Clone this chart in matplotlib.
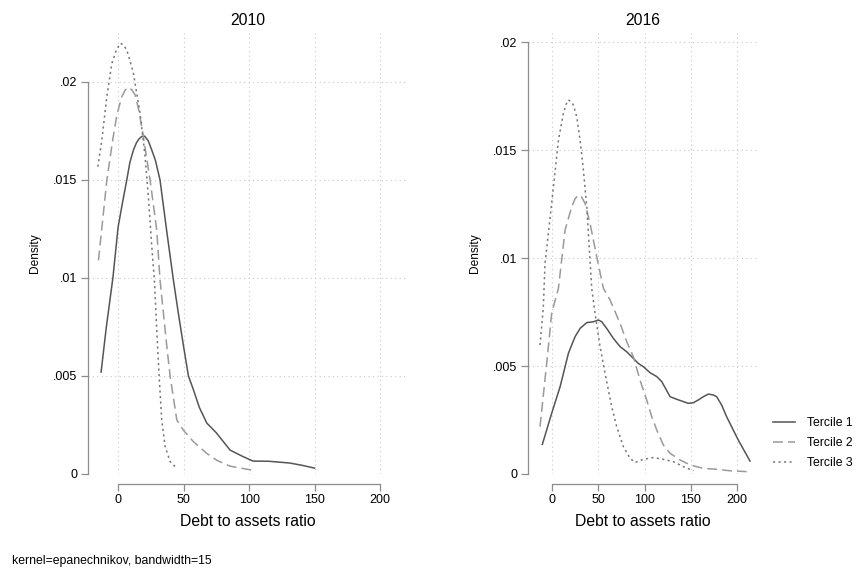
import matplotlib.pyplot as plt

plt.rcParams['font.family'] = ['Liberation Sans', 'DejaVu Sans']

# 2010 densities
x10_t1 = [-13, -9, -4, 0, 3.5, 6.6, 9, 11.7, 14, 16, 18, 20.2, 23, 25.7, 28.5, 32, 37, 42.2, 46, 50, 53.7, 57.5, 62,
          67.7, 75, 85.5, 95, 103, 115, 131, 140, 150]
y10_t1 = [.0052, .0075, .0100, .0126, .0139, .0150, .0159, .01653, .0169, .0171, .01722, .01724, .0170, .01653, .0160,
          .0150, .01245, .0099, .0082, .0065, .0050, .0043, .0034, .0026, .0021, .00122, .0009, .00066, .00065, .00056,
          .00045, .0003]
x10_t2 = [-15, -8.6, -4, -1, 2.8, 5.5, 7.9, 10.5, 13, 16, 19.3, 24.4, 29.5, 32, 37.2, 39.7, 44.8, 49.8, 57.5, 67.7,
          75.3, 85.5, 102]
y10_t2 = [.0109, .0150, .0171, .0183, .01925, .0196, .01973, .0196, .01934, .0185, .0172, .0150, .01245, .0099, .0065,
          .0050, .00276, .00224, .00165, .00105, .0007, .0004, .0002]
x10_t3 = [-15.5, -12.5, -8.6, -4.8, -1.5, 1.5, 4, 6.6, 9, 11.7, 14, 16.8, 20.6, 23.1, 25.7, 27.7, 29.5, 31.3, 33.3,
          35.9, 39.7, 44.8]
y10_t3 = [.01568, .0170, .01925, .02095, .0216, .02197, .0219, .02163, .0211, .02044, .0195, .0184, .0162, .01415,
          .0116, .0099, .00735, .0050, .00276, .0014, .00063, .0003]

# 2016 densities
x16_t1 = [-10.5, -0.4, 8.7, 17.7, 24.9, 30.3, 37.5, 44.7, 50.1, 53.7, 59.1, 66.3, 73.5, 80.7, 86.1, 93.3, 98.7, 106,
          113.2, 118.6, 127.6, 134.8, 147.4, 152.8, 158.2, 163.6, 169, 174.4, 178, 183.4, 188.8, 201.4, 214]
y16_t1 = [.00137, .00281, .00404, .00559, .00636, .00674, .00701, .00705, .00713, .00705, .00674, .00628, .0059, .00566,
          .00543, .00512, .00497, .00469, .00451, .00428, .00358, .00346, .00327, .0033, .00343, .00358, .0037, .00366,
          .00358, .00319, .00265, .00157, .0006]
x16_t2 = [-13, -5.8, -0.4, 6.9, 14.1, 21.3, 25, 28.5, 32, 35.7, 41.1, 48.3, 55.5, 62.7, 73.5, 80.7, 87.9, 95.1, 102.3,
          107.8, 113.2, 120.4, 127.6, 138.4, 149.2, 163.6, 174.4, 192.4, 210.5]
y16_t2 = [.00219, .00512, .00744, .0086, .0113, .01238, .01275, .01292, .01282, .01253, .0116, .01006, .0086, .00806,
          .00698, .00613, .00543, .00435, .00343, .00265, .00204, .00134, .00096, .00065, .00042, .00026, .00023,
          .00015, .00011]
x16_t3 = [-13, -9.4, -7.6, -0.4, 6.9, 12.3, 15, 17.7, 20.5, 23.1, 26.7, 30.3, 33.9, 37.5, 42.9, 46.5, 51.9, 57.3, 64.5,
          69.9, 77.1, 84.3, 89.7, 98.7, 109.6, 120.4, 131.2, 142, 152.8]
y16_t3 = [.00597, .00775, .00975, .01253, .01546, .0167, .0171, .01732, .01725, .01708, .01654, .01546, .01407, .01238,
          .0086, .00744, .0059, .00466, .00312, .00219, .00127, .00073, .00053, .00068, .00076, .00068, .00057, .00034,
          .00015]

labels = ['Tercile 1', 'Tercile 2', 'Tercile 3']
xticks = [0, 50, 100, 150, 200]
yticks = [0, .005, .01, .015, .02]
ytick_labels = ['0', '.005', '.01', '.015', '.02']

fig = plt.figure(figsize=(8.59, 5.69), dpi=100)
ax1 = fig.add_axes([88 / 859, 1 - 474 / 569, (407 - 88) / 859, (474 - 33) / 569])
ax2 = fig.add_axes([528 / 859, 1 - 474 / 569, (757 - 528) / 859, (474 - 33) / 569])

styles = [dict(color='#555555', lw=1.1, linestyle='-'),
          dict(color='#9a9a9a', lw=1.1, linestyle=(0, (6.5, 3.3))),
          dict(color='#777777', lw=1.1, linestyle=(0, (1.4, 2.2)))]

for ax, data, title in [(ax1, [(x10_t1, y10_t1), (x10_t2, y10_t2), (x10_t3, y10_t3)], '2010'),
                        (ax2, [(x16_t1, y16_t1), (x16_t2, y16_t2), (x16_t3, y16_t3)], '2016')]:
    for (xs, ys), st, lab in zip(data, styles, labels):
        ax.plot(xs, ys, label=lab, **st)
    ax.set_title(title, fontsize=11.3, pad=6)
    ax.set_xlabel('Debt to assets ratio', fontsize=11.3, labelpad=6)
    ax.set_ylabel('Density', fontsize=8.6, labelpad=9)
    ax.set_xticks(xticks)
    ax.set_yticks(yticks)
    ax.set_yticklabels(ytick_labels)
    ax.grid(True, linestyle=(0, (1, 3)), color='#c8c8c8', lw=0.8)
    for s in ['top', 'right']:
        ax.spines[s].set_visible(False)
    for s in ['left', 'bottom']:
        ax.spines[s].set_color('#8c8c8c')
        ax.spines[s].set_linewidth(0.9)
    ax.spines['bottom'].set_position(('outward', 7))
    ax.spines['bottom'].set_bounds(0, 200)
    ax.spines['left'].set_bounds(0, .02)
    ax.tick_params(colors='#8c8c8c', labelcolor='black', length=5, width=0.9, labelsize=9, pad=2.5)

ax1.set_xlim(-23, 220.6)
ax1.set_ylim(0, .0225)
ax2.set_xlim(-26, 221.6)
ax2.set_ylim(0, .02042)

handles, labs = ax2.get_legend_handles_labels()
fig.legend(handles, labs, loc='center left', bbox_to_anchor=(0.887, 1 - 443 / 569), frameon=False,
           fontsize=8.8, handlelength=1.8, handletextpad=1.0, labelspacing=0.65)

fig.text(12 / 859, 1 - 561 / 569, 'kernel=epanechnikov, bandwidth=15', fontsize=8.8, va='center')

fig.savefig('out.png', dpi=100)
